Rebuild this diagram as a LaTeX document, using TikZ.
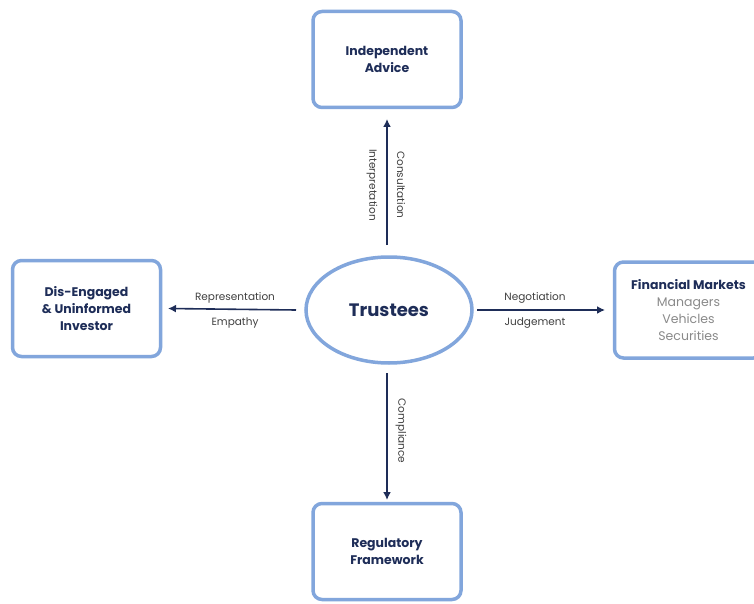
\documentclass[tikz,border=0pt]{standalone}
\usepackage{fontspec}
\setmainfont{Poppins}
\usetikzlibrary{arrows.meta,shapes.geometric}
\definecolor{boxblue}{HTML}{82A6DC}
\definecolor{navy}{HTML}{1E2D58}
\definecolor{subgray}{HTML}{8A8A8A}
\tikzset{
  x=1pt,y=-1pt,
  box/.style={draw=boxblue,line width=3.5pt,rounded corners=9pt,fill=white,minimum width=148pt,minimum height=96pt,inner sep=0pt,align=center,font=\fontsize{12.5}{17}\selectfont\bfseries,text=navy},
  oval/.style={draw=boxblue,line width=3.5pt,ellipse,minimum width=166pt,minimum height=106pt,inner sep=0pt,font=\fontsize{18}{20}\selectfont\bfseries,text=navy},
  conn/.style={draw=navy,line width=1.6pt,-{Latex[length=8pt,width=8pt]}},
  lbl/.style={font=\fontsize{10.5}{12}\selectfont,text=black!75,inner sep=0pt}
}
\begin{document}
\begin{tikzpicture}
\useasboundingbox (0,0) rectangle (754,604);
\clip (0,0) rectangle (754,604);
\fill[white] (0,0) rectangle (754,604);
\node[oval] (T) at (389,310) {Trustees};
\node[box] (IA) at (387,59.5) {Independent\\Advice};
\node[box] (DI) at (86.5,308.5) {Dis-Engaged\\\& Uninformed\\Investor};
\node[box] (FM) at (688.5,310) {Financial Markets\\{\mdseries\color{subgray}Managers}\\{\mdseries\color{subgray}Vehicles}\\{\mdseries\color{subgray}Securities}};
\node[box] (RF) at (387,551.5) {Regulatory\\Framework};
\coordinate (tU) at (387,245);
\coordinate (tD) at (387,373);
\coordinate (tL) at (296,310);
\coordinate (tR) at (477,310);
\draw[conn] (tU) -- (IA.south |- 0,119);
\draw[conn] (tD) -- (RF.north |- 0,500);
\draw[conn] (tL) -- (DI.east -| 168,0);
\draw[conn] (tR) -- (FM.west -| 605,0);
\node[lbl,rotate=-90] (l1) at (372,185) {Interpretation};
\node[lbl,rotate=-90] (l2) at (401,185) {Consultation};
\node[lbl,rotate=-90] (l3) at (401,431) {Compliance};
\node[lbl] (l4) at (235,298) {Representation};
\node[lbl] (l5) at (235,323) {Empathy};
\node[lbl] (l6) at (535,298) {Negotiation};
\node[lbl] (l7) at (535,323) {Judgement};
\end{tikzpicture}
\end{document}
